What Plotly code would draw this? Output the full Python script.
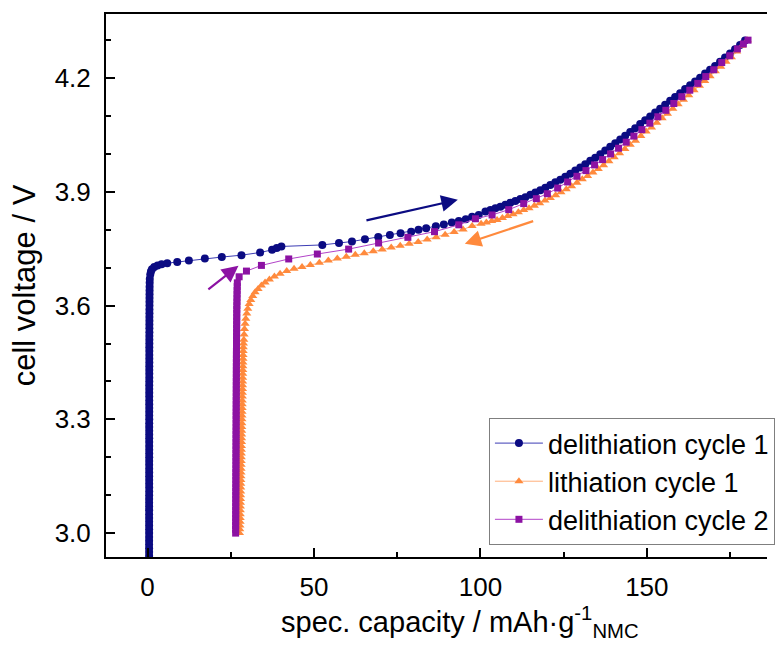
import plotly.graph_objects as go

# ---------------- data ----------------
# delithiation cycle 1
cap_d1 = [0.45, 0.45, 0.45, 0.45, 0.45, 0.45, 0.45, 0.45, 0.45, 0.45,
          0.46, 0.46, 0.46, 0.46, 0.46, 0.46, 0.46, 0.46, 0.46, 0.46,
          0.47, 0.47, 0.47, 0.47, 0.47, 0.47, 0.47, 0.47, 0.47, 0.47,
          0.48, 0.48, 0.48, 0.48, 0.48, 0.48, 0.48, 0.48, 0.48, 0.48,
          0.49, 0.49, 0.49, 0.49, 0.49, 0.49, 0.49, 0.49, 0.49, 0.49,
          0.50, 0.50, 0.50, 0.50, 0.50, 0.51, 0.51, 0.51, 0.51, 0.51,
          0.52, 0.52, 0.52, 0.53, 0.53, 0.53, 0.54, 0.54, 0.55, 0.55,
          0.56, 0.56, 0.57, 0.58, 0.59, 0.60, 0.62, 0.65,
          0.8, 1.0, 1.3, 2.0, 3.0, 4.2, 5.9, 8.9, 12.4, 17.2, 22.3, 28.2, 33.8,
          37.4, 38.8, 40.2, 52.5, 57.5, 61.4, 65.3, 69.3, 72.8, 76.0, 79.2,
          81.4, 83.7, 86.6, 89.0, 91.4, 93.5, 95.6, 97.5, 99.5,
          101.5, 103.0, 104.5, 106.0, 107.5, 109.0, 110.5, 112.0, 113.5, 115.0,
          116.5, 118.0, 119.5, 121.0, 122.5, 124.0, 125.5, 127.0, 128.5, 130.0,
          131.5, 133.0, 134.5, 136.0, 137.5, 139.0, 140.5, 142.0, 143.5, 145.0,
          146.5, 148.0, 149.5, 151.0, 152.5, 154.0, 155.5, 157.0, 158.5, 160.0,
          161.5, 163.0, 164.5, 166.0, 167.5, 169.0, 170.5, 172.0, 173.5, 175.0,
          176.5, 178.0, 179.5]
v_d1 = [2.90, 2.91, 2.92, 2.93, 2.94, 2.95, 2.96, 2.97, 2.98, 2.99,
        3.00, 3.01, 3.02, 3.03, 3.04, 3.05, 3.06, 3.07, 3.08, 3.09,
        3.10, 3.11, 3.12, 3.13, 3.14, 3.15, 3.16, 3.17, 3.18, 3.19,
        3.20, 3.21, 3.22, 3.23, 3.24, 3.25, 3.26, 3.27, 3.28, 3.29,
        3.30, 3.31, 3.32, 3.33, 3.34, 3.35, 3.36, 3.37, 3.38, 3.39,
        3.40, 3.41, 3.42, 3.43, 3.44, 3.45, 3.46, 3.47, 3.48, 3.49,
        3.50, 3.51, 3.52, 3.53, 3.54, 3.55, 3.56, 3.57, 3.58, 3.59,
        3.60, 3.61, 3.62, 3.63, 3.64, 3.65, 3.66, 3.67,
        3.682, 3.690, 3.696, 3.702, 3.706, 3.709, 3.712, 3.715, 3.719, 3.724,
        3.728, 3.733, 3.740, 3.747, 3.752, 3.756, 3.760, 3.765, 3.769, 3.775,
        3.781, 3.786, 3.791, 3.795, 3.800, 3.804, 3.809, 3.814, 3.819, 3.823,
        3.828, 3.834, 3.839,
        3.848, 3.852, 3.857, 3.861, 3.866, 3.871, 3.876, 3.881, 3.886, 3.892,
        3.898, 3.904, 3.911, 3.918, 3.925, 3.932, 3.940, 3.948, 3.956, 3.964,
        3.973, 3.982, 3.990, 3.999, 4.009, 4.019, 4.028, 4.038, 4.048, 4.058,
        4.068, 4.079, 4.089, 4.099, 4.109, 4.119, 4.130, 4.140, 4.150, 4.160,
        4.171, 4.181, 4.191, 4.201, 4.212, 4.222, 4.232, 4.243, 4.254, 4.265,
        4.276, 4.287, 4.299]

# lithiation cycle 1
cap_l1 = [180.2, 178.6, 177.0, 175.4, 173.8, 172.2, 170.6, 169.0, 167.4, 165.8,
          164.2, 162.6, 161.0, 159.4, 157.8, 156.2, 154.6, 153.0, 151.4, 149.8,
          148.2, 146.6, 145.0, 143.4, 141.8, 140.2, 138.6, 137.0, 135.4, 133.8,
          132.2, 130.6, 129.0, 127.4, 125.8, 124.2, 122.6, 121.0, 119.4, 117.8,
          116.2, 114.6, 113.0, 111.4, 109.8, 108.2, 106.6, 105.0, 103.4, 101.8,
          100.2, 97.5, 94.8, 92.1, 89.4, 86.7, 84.0, 81.3, 78.6, 75.9,
          73.2, 70.5, 67.8, 65.1, 62.4, 59.7, 57.0, 54.3, 51.6, 48.9,
          46.4, 44.0, 41.8, 39.8, 38.1, 36.6, 35.3, 34.2, 33.2, 32.3,
          31.6, 31.0, 30.5, 30.1, 29.8, 29.5, 29.3, 29.1, 29.0, 28.9,
          28.8, 28.75, 28.7, 28.68, 28.66, 28.64, 28.62, 28.6, 28.58, 28.56,
          28.54, 28.52, 28.5, 28.48, 28.46, 28.44, 28.42, 28.4, 28.38, 28.36,
          28.34, 28.32, 28.3, 28.28, 28.26, 28.24, 28.22, 28.2, 28.18, 28.16,
          28.14, 28.12, 28.1, 28.08, 28.06, 28.04, 28.02, 28.0, 27.98, 27.96,
          27.94, 27.92, 27.9, 27.88, 27.86, 27.84, 27.82, 27.8, 27.75, 27.7,
          27.6]
v_l1 = [4.300, 4.285, 4.270, 4.255, 4.243, 4.230, 4.218, 4.205, 4.192, 4.180,
        4.168, 4.155, 4.143, 4.131, 4.119, 4.106, 4.094, 4.082, 4.070, 4.059,
        4.047, 4.035, 4.024, 4.013, 4.002, 3.991, 3.981, 3.970, 3.960, 3.951,
        3.942, 3.933, 3.924, 3.915, 3.907, 3.899, 3.891, 3.884, 3.877, 3.870,
        3.863, 3.857, 3.852, 3.846, 3.841, 3.836, 3.831, 3.826, 3.823, 3.819,
        3.816, 3.810, 3.801, 3.794, 3.787, 3.780, 3.774, 3.768, 3.763, 3.758,
        3.753, 3.748, 3.743, 3.738, 3.734, 3.729, 3.724, 3.719, 3.713, 3.707,
        3.702, 3.697, 3.691, 3.684, 3.677, 3.669, 3.661, 3.653, 3.644, 3.635,
        3.625, 3.615, 3.604, 3.592, 3.579, 3.565, 3.552, 3.538, 3.524, 3.510,
        3.500, 3.490, 3.480, 3.470, 3.460, 3.450, 3.440, 3.430, 3.420, 3.410,
        3.400, 3.390, 3.380, 3.370, 3.360, 3.350, 3.340, 3.330, 3.320, 3.310,
        3.300, 3.290, 3.280, 3.270, 3.260, 3.250, 3.240, 3.230, 3.220, 3.210,
        3.200, 3.190, 3.180, 3.170, 3.160, 3.150, 3.140, 3.130, 3.120, 3.110,
        3.100, 3.090, 3.080, 3.070, 3.060, 3.050, 3.040, 3.030, 3.020, 3.010,
        3.000]

# delithiation cycle 2
cap_d2 = [26.45, 26.46, 26.46, 26.47, 26.47, 26.48, 26.48, 26.49, 26.49, 26.50,
          26.50, 26.51, 26.51, 26.52, 26.52, 26.53, 26.53, 26.54, 26.54, 26.55,
          26.55, 26.56, 26.56, 26.57, 26.57, 26.58, 26.58, 26.59, 26.59, 26.60,
          26.60, 26.61, 26.61, 26.62, 26.62, 26.63, 26.63, 26.64, 26.64, 26.65,
          26.65, 26.66, 26.66, 26.67, 26.67, 26.68, 26.68, 26.69, 26.69, 26.70,
          26.71, 26.72, 26.73, 26.74, 26.75, 26.76, 26.77, 26.78, 26.79, 26.80,
          26.82, 26.84, 26.86, 26.88, 26.90, 26.93, 26.96,
          27.5, 29.7, 34.2, 42.4, 51.0, 60.4, 69.4, 78.2, 86.2, 93.5,
          98.5, 103.5, 108.5, 113.0, 116.8, 120.1, 123.2, 126.2, 129.0, 131.7,
          134.3, 136.7, 139.1, 141.5, 143.8, 146.1, 148.5, 150.9, 153.3, 155.7,
          158.1, 160.5, 162.9, 165.3, 167.7, 170.1, 172.5, 174.9, 177.2, 179.0,
          180.4]
v_d2 = [3.00, 3.01, 3.02, 3.03, 3.04, 3.05, 3.06, 3.07, 3.08, 3.09,
        3.10, 3.11, 3.12, 3.13, 3.14, 3.15, 3.16, 3.17, 3.18, 3.19,
        3.20, 3.21, 3.22, 3.23, 3.24, 3.25, 3.26, 3.27, 3.28, 3.29,
        3.30, 3.31, 3.32, 3.33, 3.34, 3.35, 3.36, 3.37, 3.38, 3.39,
        3.40, 3.41, 3.42, 3.43, 3.44, 3.45, 3.46, 3.47, 3.48, 3.49,
        3.50, 3.51, 3.52, 3.53, 3.54, 3.55, 3.56, 3.57, 3.58, 3.59,
        3.60, 3.61, 3.62, 3.63, 3.64, 3.65, 3.66,
        3.676, 3.691, 3.706, 3.723, 3.736, 3.749, 3.765, 3.780, 3.795, 3.813,
        3.829, 3.839, 3.853, 3.869, 3.882, 3.895, 3.910, 3.926, 3.941, 3.956,
        3.971, 3.985, 4.000, 4.015, 4.031, 4.047, 4.064, 4.081, 4.098, 4.115,
        4.133, 4.151, 4.168, 4.186, 4.204, 4.222, 4.241, 4.259, 4.277, 4.290,
        4.300]

# direction arrows: (tail capacity, tail voltage, head capacity, head voltage)
arrow_d1 = [65.3, 3.824, 93.2, 3.879]
arrow_l1 = [116.3, 3.824, 95.3, 3.763]
arrow_d2 = [17.8, 3.640, 27.3, 3.705]

x_ticks = [0, 50, 100, 150]
y_ticks = [3.0, 3.3, 3.6, 3.9, 4.2]
y_ticktext = ["3.0", "3.3", "3.6", "3.9", "4.2"]
x_title = "spec. capacity / mAh·g<sup>-1</sup><sub>NMC</sub>"
y_title = "cell voltage / V"

NAVY = "#0b0b82"
ORANGE = "#ff8a3d"
PURPLE = "#8c12a3"
FONT = "Arial, 'Liberation Sans', sans-serif"

fig = go.Figure()
fig.add_trace(go.Scatter(
    x=cap_d1, y=v_d1, mode="lines+markers", name="delithiation cycle 1",
    line=dict(color="#3c3cb4", width=1),
    marker=dict(symbol="circle", size=8, color=NAVY)))
fig.add_trace(go.Scatter(
    x=cap_l1, y=v_l1, mode="lines+markers", name="lithiation cycle 1",
    line=dict(color="#ffae7a", width=1),
    marker=dict(symbol="triangle-up", size=8, color=ORANGE)))
fig.add_trace(go.Scatter(
    x=cap_d2, y=v_d2, mode="lines+markers", name="delithiation cycle 2",
    line=dict(color="#b243c8", width=1),
    marker=dict(symbol="square", size=7, color=PURPLE)))

for arr, col in [(arrow_d1, NAVY), (arrow_l1, ORANGE), (arrow_d2, PURPLE)]:
    fig.add_annotation(x=arr[2], y=arr[3], ax=arr[0], ay=arr[1],
                       xref="x", yref="y", axref="x", ayref="y",
                       text="", showarrow=True, arrowhead=2, arrowsize=1.5,
                       arrowwidth=2.2, arrowcolor=col)

# x-axis title (placed as paper annotation so it can sit off-centre like the source)
fig.add_annotation(text=x_title, xref="paper", yref="paper", x=0.535, y=-0.12,
                   xanchor="center", yanchor="middle", showarrow=False,
                   font=dict(family=FONT, size=29, color="black"))

fig.update_layout(
    width=775, height=655,
    margin=dict(l=106, r=0, t=14, b=98),
    paper_bgcolor="white", plot_bgcolor="white",
    font=dict(family=FONT, size=26, color="black"),
    showlegend=True,
    legend=dict(x=1.012, xanchor="right", y=0.022, yanchor="bottom",
                bgcolor="white", bordercolor="#7f7f7f", borderwidth=1,
                font=dict(family=FONT, size=27, color="black"),
                itemwidth=48, tracegroupgap=0),
)
fig.update_xaxes(
    range=[-12.5, 186.1], tickvals=x_ticks, ticks="inside", ticklen=9,
    tickwidth=2, tickcolor="black", showline=True, linecolor="black",
    linewidth=2, mirror=True, showgrid=False, zeroline=False,
    tickfont=dict(family=FONT, size=26, color="black"), ticklabelstandoff=6,
    minor=dict(dtick=25, tick0=0, ticks="inside", ticklen=5, tickwidth=2,
               tickcolor="black", showgrid=False),
)
fig.update_yaxes(
    range=[2.937, 4.369], tickvals=y_ticks, ticktext=y_ticktext,
    ticks="inside", ticklen=9, tickwidth=2, tickcolor="black",
    showline=True, linecolor="black", linewidth=2, mirror=False,
    showgrid=False, zeroline=False,
    tickfont=dict(family=FONT, size=26, color="black"), ticklabelstandoff=8,
    minor=dict(dtick=0.1, tick0=3.0, ticks="inside", ticklen=5, tickwidth=2,
               tickcolor="black", showgrid=False),
    title=dict(text=y_title,
               font=dict(family=FONT, size=31, color="black"), standoff=10),
)

fig.write_html("out.html", config={"displayModeBar": False},
               post_script="document.body.style.margin='0';")
